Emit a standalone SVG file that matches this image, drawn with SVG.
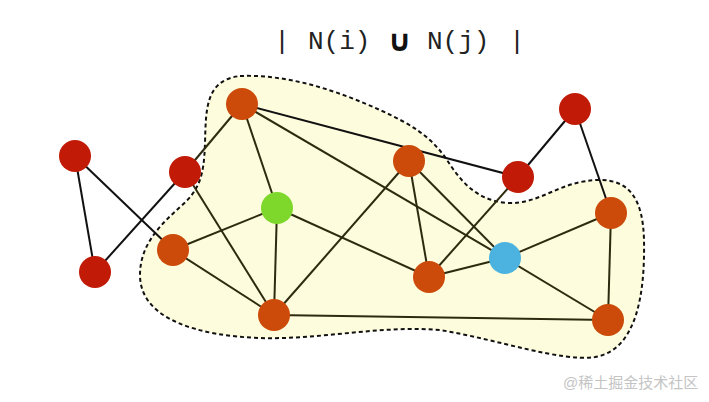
<svg xmlns="http://www.w3.org/2000/svg" width="709" height="402" viewBox="0 0 709 402">
<style>
.t{font-family:"Liberation Mono","DejaVu Sans Mono",monospace;font-size:26px;fill:#222}
.u{font-family:"DejaVu Sans","Liberation Sans",sans-serif;font-size:30px;font-weight:bold;fill:#111}
.wm{font-family:"Liberation Sans","Noto Sans CJK SC",sans-serif;font-size:15px;fill:#c4c4c4}
.ei{stroke:#2d2a10;stroke-width:2;fill:none}
.eo{stroke:#111;stroke-width:2;fill:none}
.red{fill:#c11b08}
.org{fill:#cc4a0a}
</style>
<rect width="709" height="402" fill="#fff"/>
<g id="title">
<text class="t" x="282" y="48.5" text-anchor="middle">|</text>
<text class="t" x="308" y="48.5">N(i)</text>
<text class="u" x="399.5" y="51" text-anchor="middle">∪</text>
<text class="t" x="427" y="48.5">N(j)</text>
<text class="t" x="517" y="48.5" text-anchor="middle">|</text>
</g>
<g id="region">
<path d="M 240,76 C 290,74 340,92 380,110 C 410,124 430,135 447,160 C 460,180 475,200 507,203 C 540,205 560,180 600,180 C 630,180 643,200 644,240 C 645,290 638,350 595,357 C 560,362 500,340 440,330 C 380,325 320,340 260,338 C 200,336 140,320 140,275 C 140,245 160,225 180,207 C 200,190 204,175 205,143 C 206,110 205,80 240,76 Z" fill="#fdfcdc" stroke="#111" stroke-width="2" stroke-dasharray="4,3"/>
</g>
<g id="connectors">
<line class="eo" x1="75" y1="156" x2="95" y2="272"/>
<line class="eo" x1="75" y1="156" x2="173" y2="250"/>
<line class="eo" x1="95" y1="272" x2="185" y2="172"/>
<line class="ei" x1="185" y1="172" x2="242" y2="104"/>
<line class="ei" x1="185" y1="172" x2="274" y2="315"/>
<line class="ei" x1="242" y1="104" x2="277" y2="208"/>
<line class="eo" x1="242" y1="104" x2="518" y2="177"/>
<line class="ei" x1="242" y1="104" x2="505" y2="258"/>
<line class="ei" x1="277" y1="208" x2="173" y2="250"/>
<line class="ei" x1="277" y1="208" x2="274" y2="315"/>
<line class="ei" x1="277" y1="208" x2="429" y2="277"/>
<line class="ei" x1="173" y1="250" x2="274" y2="315"/>
<line class="ei" x1="274" y1="315" x2="409" y2="161"/>
<line class="ei" x1="274" y1="315" x2="608" y2="320"/>
<line class="ei" x1="409" y1="161" x2="429" y2="277"/>
<line class="ei" x1="409" y1="161" x2="505" y2="258"/>
<line class="ei" x1="429" y1="277" x2="518" y2="177"/>
<line class="ei" x1="429" y1="277" x2="505" y2="258"/>
<line class="ei" x1="505" y1="258" x2="611" y2="213"/>
<line class="ei" x1="505" y1="258" x2="608" y2="320"/>
<line class="ei" x1="611" y1="213" x2="608" y2="320"/>
<line class="eo" x1="611" y1="213" x2="575" y2="109"/>
<line class="eo" x1="575" y1="109" x2="518" y2="177"/>
</g>
<g id="n-r1"><circle class="red" cx="75" cy="156" r="16"/></g>
<g id="n-r2"><circle class="red" cx="95" cy="272" r="16"/></g>
<g id="n-r3"><circle class="red" cx="185" cy="172" r="16"/></g>
<g id="n-r4"><circle class="red" cx="518" cy="177" r="16"/></g>
<g id="n-r5"><circle class="red" cx="575" cy="109" r="16"/></g>
<g id="n-o1"><circle class="org" cx="242" cy="104" r="16"/></g>
<g id="n-o2"><circle class="org" cx="173" cy="250" r="16"/></g>
<g id="n-o3"><circle class="org" cx="274" cy="315" r="16"/></g>
<g id="n-o4"><circle class="org" cx="409" cy="161" r="16"/></g>
<g id="n-o5"><circle class="org" cx="429" cy="277" r="16"/></g>
<g id="n-o6"><circle class="org" cx="611" cy="213" r="16"/></g>
<g id="n-o7"><circle class="org" cx="608" cy="320" r="16"/></g>
<g id="n-i"><circle cx="277" cy="208" r="16" fill="#7ed82c"/></g>
<g id="n-j"><circle cx="505" cy="258" r="16" fill="#4cb3e0"/></g>
<text class="wm" x="563" y="388">@稀土掘金技术社区</text>
</svg>
